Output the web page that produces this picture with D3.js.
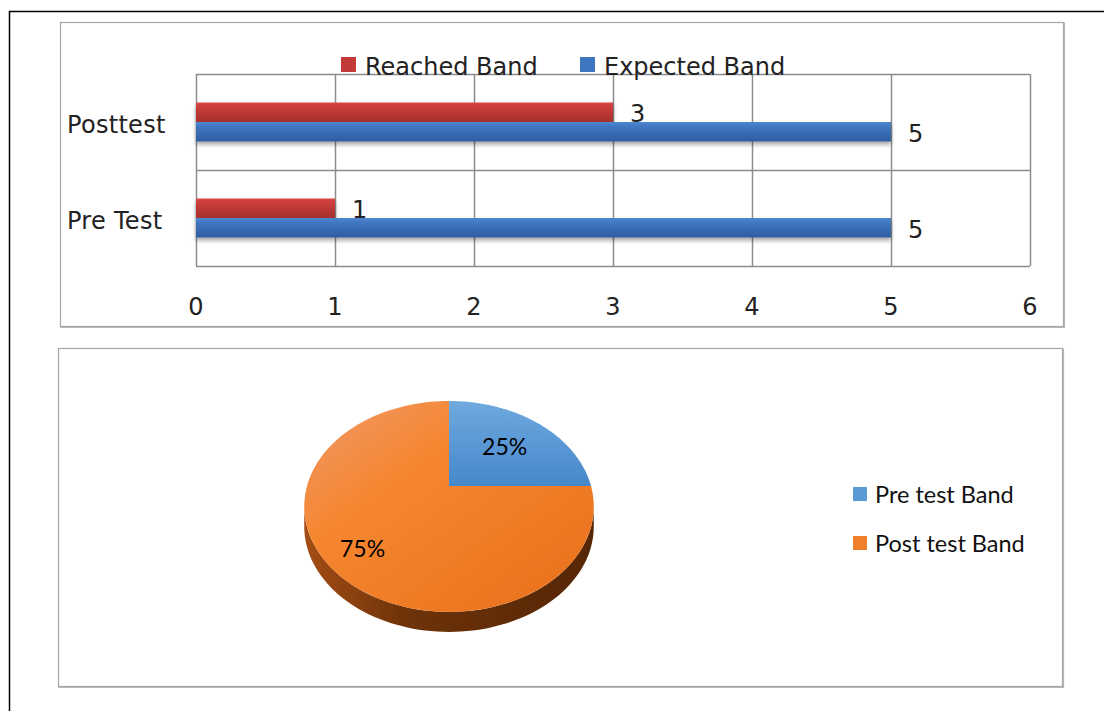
<!DOCTYPE html>
<html><head><meta charset="utf-8">
<script src="https://cdn.jsdelivr.net/npm/d3@7"></script>
<style>
html,body{margin:0;padding:0;background:#fff;}
svg{display:block;}
</style></head>
<body>
<svg id="c" width="1104" height="711"></svg>
<script>
// ---- data ----
const barCategories = ["Posttest", "Pre Test"];
const barSeries = ["Reached Band", "Expected Band"];
const reachedBand = [3, 1];
const expectedBand = [5, 5];
const xTicks = [0, 1, 2, 3, 4, 5, 6];

const pieCategories = ["Pre test Band", "Post test Band"];
const pieValues = [25, 75];
const pieLabels = ["25%", "75%"];

// ---- setup ----
const svg = d3.select("#c");
const defs = svg.append("defs");

function linGrad(id, x1, y1, x2, y2, stops) {
  const g = defs.append("linearGradient").attr("id", id)
    .attr("x1", x1).attr("y1", y1).attr("x2", x2).attr("y2", y2);
  stops.forEach(s => g.append("stop").attr("offset", s[0]).attr("stop-color", s[1]));
}
linGrad("gRed", 0, 0, 0, 1, [[0, "#d84a47"], [0.15, "#cf3f3c"], [1, "#a5302e"]]);
linGrad("gBlue", 0, 0, 0, 1, [[0, "#4f87d0"], [0.2, "#4279c4"], [1, "#2f5d9e"]]);
linGrad("gOrange", 0, 0, 1, 1, [[0, "#f0996a"], [0.35, "#f5862f"], [1, "#e86f1a"]]);
linGrad("gBlueP", 0, 0, 0, 1, [[0, "#6fa9df"], [1, "#4688cb"]]);
linGrad("gSide", 0, 0, 1, 0, [[0, "#a44c14"], [0.35, "#6e3309"], [1, "#552606"]]);
const f = defs.append("filter").attr("id", "shadow").attr("x", "-5%").attr("y", "-50%").attr("width", "110%").attr("height", "250%");
f.append("feDropShadow").attr("dx", 0).attr("dy", 3).attr("stdDeviation", 2)
  .attr("flood-color", "#000").attr("flood-opacity", 0.35);

// outer frame
svg.append("line").attr("x1", 9).attr("x2", 1104).attr("y1", 11.5).attr("y2", 11.5)
  .attr("stroke", "#000").attr("stroke-width", 1.5);
svg.append("line").attr("x1", 9.5).attr("x2", 9.5).attr("y1", 11).attr("y2", 711)
  .attr("stroke", "#000").attr("stroke-width", 1.5);

// chart boxes
function box(x, y, w, h) {
  svg.append("rect").attr("x", x).attr("y", y).attr("width", w).attr("height", h)
    .attr("fill", "#fff").attr("stroke", "#a6a6a6").attr("stroke-width", 1.2);
  svg.append("path").attr("d", `M${x + w + 1},${y} V${y + h + 1} H${x}`)
    .attr("fill", "none").attr("stroke", "#b8b8b8").attr("stroke-width", 1.2);
}
box(60.5, 22.5, 1003, 304);
box(58.5, 348.5, 1004, 338);

// ---- bar chart ----
const plot = {left: 196, right: 1030, top: 74, bottom: 266};
const x = d3.scaleLinear().domain([0, 6]).range([plot.left, plot.right]);
const y0 = d3.scaleBand().domain(barCategories).range([plot.top, plot.bottom]).padding(0);
const y1 = d3.scaleBand().domain(barSeries).range([0, y0.bandwidth()]).paddingInner(0).paddingOuter(1.46);
const fontTop = "'DejaVu Sans', Verdana, sans-serif";

// gridlines
const grid = svg.append("g");
grid.selectAll("line.v").data(xTicks).join("line")
  .attr("x1", d => Math.round(x(d)) + 0.5).attr("x2", d => Math.round(x(d)) + 0.5)
  .attr("y1", plot.top).attr("y2", plot.bottom)
  .attr("stroke", "#8c8c8c").attr("stroke-width", 1.5);
grid.selectAll("line.h").data([plot.top, y0("Pre Test"), plot.bottom]).join("line")
  .attr("x1", plot.left).attr("x2", plot.right)
  .attr("y1", d => d + 0.5).attr("y2", d => d + 0.5)
  .attr("stroke", "#8c8c8c").attr("stroke-width", 1.5);

// bars
const barData = barCategories.map((c, i) => ({
  cat: c,
  vals: [{s: barSeries[0], v: reachedBand[i], fill: "url(#gRed)"},
         {s: barSeries[1], v: expectedBand[i], fill: "url(#gBlue)"}]
}));
const groups = svg.append("g").selectAll("g").data(barData).join("g")
  .attr("transform", d => `translate(0,${y0(d.cat)})`);
groups.append("g").attr("filter", "url(#shadow)")
  .selectAll("rect").data(d => d.vals).join("rect")
  .attr("x", x(0)).attr("y", d => y1(d.s))
  .attr("width", d => x(d.v) - x(0)).attr("height", y1.bandwidth())
  .attr("fill", d => d.fill);
groups.selectAll("text.lbl").data(d => d.vals).join("text")
  .attr("class", "lbl")
  .attr("x", d => x(d.v) + 17).attr("y", d => y1(d.s) + y1.bandwidth() / 2 + 2)
  .attr("dominant-baseline", "central")
  .attr("font-family", fontTop).attr("font-size", 24).attr("fill", "#222")
  .text(d => d.v);

// category labels
svg.append("g").selectAll("text").data(barCategories).join("text")
  .attr("x", 67).attr("y", d => y0(d) + y0.bandwidth() / 2 + 3)
  .attr("dominant-baseline", "central")
  .attr("font-family", fontTop).attr("font-size", 24).attr("fill", "#222")
  .attr("letter-spacing", 0.3)
  .text(d => d);

// x tick labels
svg.append("g").selectAll("text").data(xTicks).join("text")
  .attr("x", d => x(d)).attr("y", 307)
  .attr("text-anchor", "middle").attr("dominant-baseline", "central")
  .attr("font-family", fontTop).attr("font-size", 24).attr("fill", "#222")
  .text(d => d);

// legend (top)
const legTop = svg.append("g").selectAll("g").data(barSeries).join("g")
  .attr("transform", (d, i) => `translate(${341 + i * 239},57)`);
legTop.append("rect").attr("width", 15).attr("height", 15)
  .attr("fill", (d, i) => i === 0 ? "#c43a38" : "#3f76c0");
legTop.append("text").attr("x", 24).attr("y", 10)
  .attr("dominant-baseline", "central")
  .attr("font-family", fontTop).attr("font-size", 24).attr("fill", "#222")
  .text(d => d);

// ---- 3D pie ----
const cx = 449, cy = 486, R = 142, A = 101.5, B = 0.194, depth = 20;
function proj(t, k, dy) {
  const u = Math.sin(t) * k, v = -Math.cos(t) * k;
  const den = 1 - B * v;
  return [cx + R * u / den, cy + A * v / den + (dy || 0)];
}
const pie = d3.pie().sort(null).value(d => d)(pieValues);
const pieFills = ["url(#gBlueP)", "url(#gOrange)"];
const pieG = svg.append("g");
// side wall
const tL = Math.acos(-B), tR = 2 * Math.PI - tL;
pie.forEach((p, i) => {
  const a0 = Math.max(p.startAngle, tL), a1 = Math.min(p.endAngle, tR);
  if (a1 <= a0) return;
  const n = 80, top = [], bot = [];
  for (let j = 0; j <= n; j++) {
    const t = a0 + (a1 - a0) * j / n;
    top.push(proj(t, 1, 0));
    bot.push(proj(t, 1, depth));
  }
  const pts = top.concat(bot.reverse());
  pieG.append("path").attr("d", "M" + pts.map(q => q.join(",")).join("L") + "Z")
    .attr("fill", "url(#gSide)");
});
// top faces
pie.forEach((p, i) => {
  const n = 120, pts = [[cx, cy]];
  for (let j = 0; j <= n; j++) {
    const t = p.startAngle + (p.endAngle - p.startAngle) * j / n;
    pts.push(proj(t, 1, 0));
  }
  pieG.append("path").attr("d", "M" + pts.map(q => q.join(",")).join("L") + "Z")
    .attr("fill", pieFills[i]);
});
// labels
const labelR = [0.6, 0.77];
const pieFont = "Lato, 'Open Sans', sans-serif";
pie.forEach((p, i) => {
  const c = proj((p.startAngle + p.endAngle) / 2, labelR[i], 0);
  pieG.append("text").attr("x", c[0]).attr("y", c[1])
    .attr("text-anchor", "middle").attr("dominant-baseline", "central")
    .attr("font-family", pieFont).attr("font-size", 23).attr("fill", "#000")
    .text(pieLabels[i]);
});
// legend (pie)
const legPieColors = ["#5b9bd5", "#f07f2c"];
const legP = svg.append("g").selectAll("g").data(pieCategories).join("g")
  .attr("transform", (d, i) => `translate(853,${487 + i * 49})`);
legP.append("rect").attr("width", 14).attr("height", 14).attr("fill", (d, i) => legPieColors[i]);
legP.append("text").attr("x", 22).attr("y", 7).attr("dominant-baseline", "central")
  .attr("font-family", pieFont).attr("font-size", 23.5).attr("fill", "#111")
  .text(d => d);
</script>
</body></html>
